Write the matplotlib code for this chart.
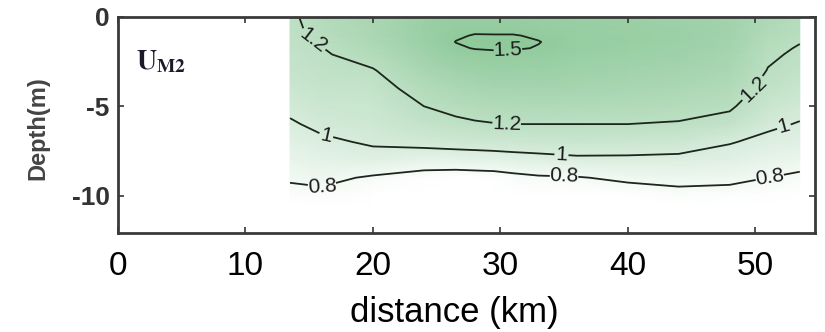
import numpy as np
import matplotlib
matplotlib.use("Agg")
import matplotlib.pyplot as plt
from matplotlib.colors import LinearSegmentedColormap

plt.rcParams["axes.unicode_minus"] = False

# Along-channel stations (km) and depths (m) of the M2 amplitude section
distance_km = [13.5, 16, 20, 24, 26.5, 28, 29.5, 31, 33, 36, 40, 44, 48, 51, 53.5]
depth_m = [0, -0.7, -1.05, -1.4, -1.75, -2.1, -3, -4, -5, -6, -7, -8, -9, -10, -10.7]

# U_M2 amplitude (m/s), one list per station, top to bottom
u_13_5 = [1.18, 1.17, 1.165, 1.16, 1.15, 1.14, 1.12, 1.09, 1.04, 0.98, 0.93, 0.88, 0.82, 0.75, 0.71]
u_16 = [1.25, 1.24, 1.225, 1.21, 1.197, 1.185, 1.16, 1.13, 1.09, 1.04, 0.97, 0.91, 0.84, 0.76, 0.71]
u_20 = [1.33, 1.32, 1.315, 1.30, 1.28, 1.26, 1.19, 1.14, 1.10, 1.07, 1.02, 0.94, 0.78, 0.71, 0.67]
u_24 = [1.42, 1.43, 1.43, 1.42, 1.405, 1.39, 1.33, 1.26, 1.20, 1.14, 1.05, 0.90, 0.73, 0.66, 0.63]
u_26_5 = [1.46, 1.48, 1.49, 1.502, 1.485, 1.46, 1.39, 1.31, 1.24, 1.17, 1.07, 0.90, 0.72, 0.65, 0.62]
u_28 = [1.46, 1.485, 1.505, 1.52, 1.505, 1.47, 1.41, 1.33, 1.26, 1.185, 1.075, 0.91, 0.725, 0.65, 0.62]
u_29_5 = [1.46, 1.48, 1.505, 1.53, 1.51, 1.48, 1.42, 1.35, 1.27, 1.195, 1.08, 0.92, 0.73, 0.65, 0.62]
u_31 = [1.46, 1.48, 1.505, 1.525, 1.51, 1.475, 1.42, 1.355, 1.275, 1.20, 1.085, 0.935, 0.755, 0.665, 0.63]
u_33 = [1.45, 1.47, 1.49, 1.503, 1.495, 1.47, 1.42, 1.36, 1.28, 1.20, 1.09, 0.95, 0.78, 0.68, 0.64]
u_36 = [1.44, 1.45, 1.455, 1.46, 1.45, 1.44, 1.40, 1.35, 1.28, 1.20, 1.10, 0.97, 0.79, 0.69, 0.65]
u_40 = [1.43, 1.44, 1.44, 1.44, 1.43, 1.42, 1.38, 1.33, 1.27, 1.20, 1.09, 0.97, 0.83, 0.72, 0.67]
u_44 = [1.41, 1.42, 1.42, 1.42, 1.41, 1.40, 1.36, 1.31, 1.25, 1.19, 1.08, 0.96, 0.85, 0.75, 0.69]
u_48 = [1.38, 1.38, 1.375, 1.37, 1.36, 1.35, 1.32, 1.27, 1.22, 1.15, 1.01, 0.93, 0.84, 0.74, 0.69]
u_51 = [1.30, 1.28, 1.265, 1.25, 1.235, 1.22, 1.195, 1.16, 1.10, 1.03, 0.96, 0.89, 0.80, 0.73, 0.69]
u_53_5 = [1.24, 1.23, 1.22, 1.205, 1.19, 1.18, 1.15, 1.11, 1.05, 0.99, 0.93, 0.86, 0.77, 0.70, 0.66]

contour_levels = [0.8, 1.0, 1.2, 1.5]
x_ticks = [0, 10, 20, 30, 40, 50]
y_ticks = [0, -5, -10]

columns = [u_13_5, u_16, u_20, u_24, u_26_5, u_28, u_29_5, u_31, u_33,
           u_36, u_40, u_44, u_48, u_51, u_53_5]
U = np.array(columns).T
X, Z = np.meshgrid(distance_km, depth_m)

fig = plt.figure(figsize=(8.25, 3.32), dpi=100)
ax = fig.add_axes([0.143, 0.298, 0.845, 0.651])

cmap = LinearSegmentedColormap.from_list("greens", ["#ffffff", "#8dc999"])
ax.pcolormesh(X, Z, U, cmap=cmap, vmin=0.72, vmax=1.53, shading="gouraud")

cs = ax.contour(X, Z, U, levels=contour_levels, colors="#1c261c", linewidths=1.3)
label_spots = [(15.6, -1.0), (30.5, -5.95), (50.2, -4.4),
               (30.6, -1.9),
               (16.3, -6.8), (34.8, -7.7), (52.3, -6.3),
               (16.0, -9.45), (35.0, -8.9), (51.2, -9.3)]
ax.clabel(cs, fmt=lambda v: f"{v:g}", fontsize=15, manual=label_spots,
          inline=True, inline_spacing=3)
for t in cs.labelTexts:
    t.set_family("Liberation Sans")
    t.set_color("#1c1c1c")

ax.set_xlim(0, 54.7)
ax.set_ylim(-12.1, 0)
ax.set_xticks(x_ticks)
ax.set_yticks(y_ticks)
ax.tick_params(direction="in", length=4, width=1.2, color="#333333",
               top=True, right=True)
ax.tick_params(axis="x", labelsize=24, pad=13, labelcolor="black")
ax.tick_params(axis="y", labelsize=19, pad=6, labelcolor="#333333")
for lab in ax.get_xticklabels() + ax.get_yticklabels():
    lab.set_family("Liberation Sans")
for lab in ax.get_yticklabels():
    lab.set_fontweight("bold")
for sp in ax.spines.values():
    sp.set_linewidth(2.0)
    sp.set_color("#3a3a3a")

ax.set_xlabel("distance (km)", fontsize=25, family="Liberation Sans")
ax.xaxis.set_label_coords(0.482, -0.292)
ax.set_ylabel("Depth(m)", fontsize=17, family="Liberation Sans",
              color="#444444", fontweight="bold")
ax.yaxis.set_label_coords(-0.098, 0.484)

ax.text(1.4, -1.7, r"$\mathbf{U}_{\mathbf{M2}}$", fontsize=20,
        math_fontfamily="stix", color="#1a1a2a", va="top", ha="left")

fig.savefig("out.png", dpi=100)
